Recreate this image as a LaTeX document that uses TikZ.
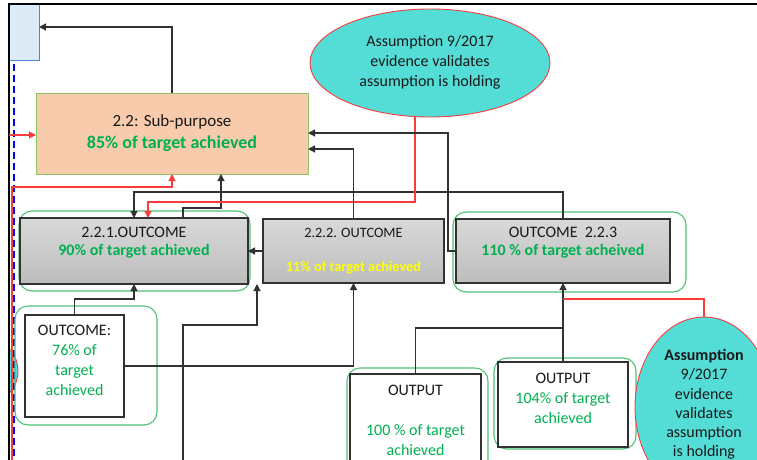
\documentclass[tikz,border=0pt]{standalone}
\usepackage{fontspec}
\setmainfont{Carlito}
\usetikzlibrary{arrows.meta,shapes.geometric}
\definecolor{grn}{RGB}{0,176,80}
\definecolor{olg}{RGB}{80,192,120}
\definecolor{peach}{RGB}{248,203,173}
\definecolor{subb}{RGB}{140,196,100}
\definecolor{cyanf}{RGB}{84,221,215}
\definecolor{redl}{RGB}{250,60,60}
\definecolor{lblue}{RGB}{221,235,247}
\definecolor{bedge}{RGB}{80,130,215}
\definecolor{txt}{RGB}{25,25,25}
\definecolor{ln}{RGB}{50,50,50}
\definecolor{ylw}{RGB}{255,255,0}
\begin{document}
\begin{tikzpicture}[x=1pt,y=-1pt,
  every node/.style={inner sep=0pt,outer sep=0pt},
  tx/.style={align=center,text=txt},
  gbox/.style={draw=ln,line width=1.3pt,top color=black!15,bottom color=black!26},
  wbox/.style={draw=ln,line width=1.3pt,fill=white},
  gout/.style={draw=olg,line width=1.1pt,rounded corners=13pt},
  ellp/.style={ellipse,draw=redl,line width=0.9pt,fill=cyanf},
  con/.style={draw=ln,line width=1.2pt},
  arr/.style={con,-{Triangle[length=7pt,width=7pt]}},
  rcon/.style={draw=redl,line width=1.2pt},
  rarr/.style={rcon,-{Triangle[length=7pt,width=7pt]}},
  f16/.style={font=\fontsize{16}{18}\selectfont},
  f20/.style={font=\fontsize{16}{20}\selectfont},
]
\useasboundingbox (0,0) rectangle (757,460);
\fill[white] (0,0) rectangle (757,460);
\clip (0,0) rectangle (757,460);

% left partial ellipse
\begin{scope}
\clip (9,0) rectangle (757,460);
\node[ellp,minimum width=50pt,minimum height=58pt] (ell0) at (-7,371) {};
\end{scope}

% light blue rectangle
\node[fill=lblue,minimum width=30pt,minimum height=57pt] (blue) at (24,32.5) {};
\draw[draw=bedge,line width=1pt] (blue.north east) -- (blue.south east) -- (blue.south west);

% frame
\draw[black,line width=1.4pt] (757,4) -- (9,4) -- (9,460);
\draw[blue,line width=1.8pt,dash pattern=on 7pt off 4pt] (14,64) -- (14,460);

% green rounded outlines
\draw[gout] (19,211) rectangle (250,291);
\draw[gout] (453,212) rectangle (686,292);
\draw[gout] (15,306) rectangle (157,425);
\draw[gout] (347,368) rectangle (488,480);
\draw[gout] (494,358) rectangle (636,449);

% sub-purpose
\node[draw=subb,line width=1pt,fill=peach,minimum width=272pt,minimum height=81pt,tx,font=\fontsize{17}{22}\selectfont] (subp) at (172,133.5)
  {{\fontsize{17}{22}\selectfont 2.2: Sub-purpose}\\{\fontsize{18}{22}\selectfont\bfseries\color{grn}85\% of target achieved}};

% top ellipse
\node[ellp,minimum width=240pt,minimum height=108pt] (ell1) at (430,63) {};
\node[tx,f20] (tell1) at (430,62.5) {Assumption 9/2017\\evidence validates\\assumption is holding};

% outcome boxes
\node[gbox,minimum width=228pt,minimum height=66pt] (g221) at (134,251) {};
\node[tx,f16] (t221) at (134,243) {2.2.1.OUTCOME\\{\bfseries\color{grn}90\% of target achieved}};

\node[gbox,minimum width=181pt,minimum height=64pt] (g222) at (353.5,251) {};
\node[tx,font=\fontsize{14.3}{17}\selectfont] (t222) at (353.5,251) {2.2.2. OUTCOME\\[17pt]{\bfseries\color{ylw}11\% of target achieved}};

\node[gbox,minimum width=214pt,minimum height=64pt] (g223) at (563,251) {};
\node[tx,f16] (t223) at (563,243) {OUTCOME\ \ 2.2.3\\{\bfseries\color{grn}110 \% of target acheived}};

% white boxes
\node[wbox,minimum width=99pt,minimum height=102pt] (o76) at (74.5,366) {};
\node[tx,f20,text=grn] (t76) at (74.5,360.5) {\textcolor{txt}{OUTCOME:}\\76\% of\\target\\achieved};

\node[wbox,minimum width=131pt,minimum height=110pt] (o100) at (415.5,429) {};
\node[tx,f20,text=grn] (t100) at (415.5,420) {\textcolor{txt}{OUTPUT}\\[20pt]100 \% of target\\achieved};

\node[wbox,minimum width=130pt,minimum height=85pt] (o104) at (563,404.5) {};
\node[tx,f20,text=grn] (t104) at (563,398) {\textcolor{txt}{OUTPUT}\\104\% of target\\achieved};

% right ellipse
\node[ellp,minimum width=138pt,minimum height=180pt] (ell2) at (704,407) {};
\node[tx,font=\fontsize{16}{19.2}\selectfont] (tell2) at (704,404.5) {\textbf{Assumption}\\9/2017\\evidence\\validates\\assumption\\is holding};

% free ends
\coordinate (rin) at (9,135);
\coordinate (rb) at (12,462);
\coordinate (b1) at (183,462);
\coordinate (t1) at (257,284);

% connectors
\draw[arr] (subp.north) |- (blue.east |- 0,27);
\draw[rarr] (rin) -- (subp.west |- rin);
\draw[rarr] (rb) |- (subp.south |- 0,187) -- (subp.south);
\draw[arr] (g221.north -| 183,0) |- (221,208) -- (subp.south -| 221,0);
\draw[arr] (g223.north) |- (g221.north |- 0,192) -- (g221.north);
\draw[rarr] (ell1.south -| 415,0) |- (148,202) -- (g221.north -| 148,0);
\draw[arr] (g223.west) -| (448,133) -- (subp.east |- 0,133);
\draw[arr] (g222.north) |- (subp.east |- 0,149);
\draw[arr] (g222.west) -- (g221.east);
\draw[arr] (o76.north) |- (134,299) -- (g221.south);
\draw[arr] (o76.east) -| (g222.south);
\draw[arr] (b1) |- (t1 |- 0,325) -- (t1);
\draw[con] (o100.north) |- (g223.south |- 0,328);
\draw[arr] (o104.north) -- (g223.south);
\draw[rcon] (g223.south |- 0,299) -| (ell2.north);
\end{tikzpicture}
\end{document}
